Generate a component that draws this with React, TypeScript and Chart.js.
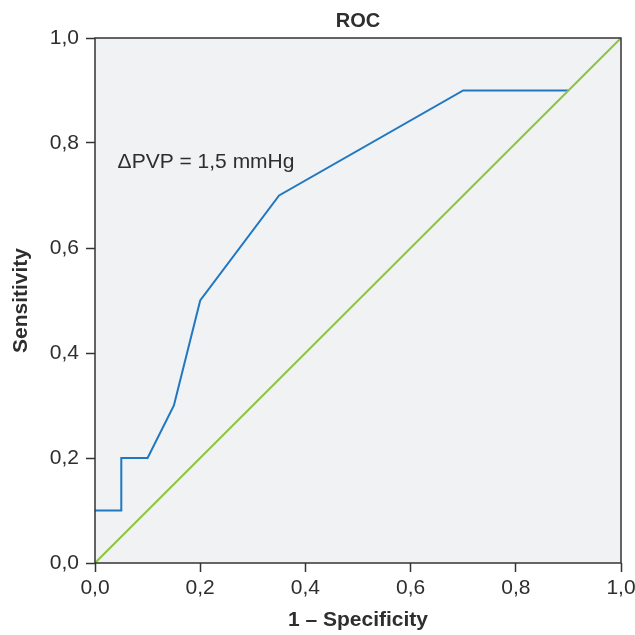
import React, { useEffect, useRef } from "react";
import { Chart, registerables } from "chart.js";

Chart.register(...registerables);

const rocX = [0, 0.05, 0.05, 0.1, 0.15, 0.2, 0.35, 0.7, 0.9];
const rocY = [0.1, 0.1, 0.2, 0.2, 0.3, 0.5, 0.7, 0.9, 0.9];
const refX = [0, 1];
const refY = [0, 1];
const tickValues = [0, 0.2, 0.4, 0.6, 0.8, 1.0];
const chartTitle = "ROC";
const xTitle = "1 – Specificity";
const yTitle = "Sensitivity";
const annotationText = "ΔPVP = 1,5 mmHg";
const annotationAt = { x: 0.043, y: 0.752 };

const FONT = "'Liberation Sans', Arial, sans-serif";
const TEXT = "#2e2e2e";

const fmt = (v: number) => v.toFixed(1).replace(".", ",");

export default function App() {
  const ref = useRef<HTMLCanvasElement | null>(null);

  useEffect(() => {
    const canvas = ref.current!;
    const decor = {
      id: "decor",
      beforeDraw(chart: any) {
        const { ctx, chartArea: a } = chart;
        ctx.save();
        ctx.fillStyle = "#f1f2f4";
        ctx.fillRect(a.left, a.top, a.right - a.left, a.bottom - a.top);
        ctx.restore();
      },
      afterDatasetsDraw(chart: any) {
        const { ctx, chartArea: a, scales } = chart;
        ctx.save();
        ctx.strokeStyle = "#333";
        ctx.lineWidth = 1.5;
        ctx.strokeRect(a.left, a.top, a.right - a.left, a.bottom - a.top);
        ctx.fillStyle = TEXT;
        ctx.font = `bold 20px ${FONT}`;
        ctx.textAlign = "center";
        ctx.textBaseline = "middle";
        ctx.fillText(chartTitle, (a.left + a.right) / 2, 21);
        ctx.font = `21px ${FONT}`;
        ctx.textAlign = "left";
        ctx.textBaseline = "alphabetic";
        ctx.fillText(
          annotationText,
          scales.x.getPixelForValue(annotationAt.x),
          scales.y.getPixelForValue(annotationAt.y)
        );
        ctx.restore();
      },
    };

    const chart = new Chart(canvas, {
      type: "scatter",
      data: {
        datasets: [
          {
            data: refX.map((x, i) => ({ x, y: refY[i] })),
            showLine: true,
            borderColor: "#8cc63e",
            borderWidth: 2,
            pointRadius: 0,
            tension: 0,
          },
          {
            data: rocX.map((x, i) => ({ x, y: rocY[i] })),
            showLine: true,
            borderColor: "#1f78c1",
            borderWidth: 2,
            pointRadius: 0,
            tension: 0,
          },
        ],
      },
      options: {
        animation: false,
        responsive: false,
        layout: { padding: { top: 38, right: 14, left: 0, bottom: 0 } },
        plugins: { legend: { display: false }, tooltip: { enabled: false }, title: { display: false } },
        scales: {
          x: {
            type: "linear",
            min: 0,
            max: 1,
            afterBuildTicks: (s: any) => {
              s.ticks = tickValues.map((v) => ({ value: v }));
            },
            afterFit: (s: any) => {
              s.height = 72;
              s.paddingLeft = 0;
              s.paddingRight = 0;
            },
            grid: { drawOnChartArea: false, tickLength: 9, tickWidth: 1.5, tickColor: "#333" },
            border: { display: false },
            ticks: {
              callback: (v: any) => fmt(Number(v)),
              color: TEXT,
              font: { family: FONT, size: 21 },
              padding: 4,
              maxRotation: 0,
            },
            title: {
              display: true,
              text: xTitle,
              color: TEXT,
              font: { family: FONT, size: 21, weight: "bold" },
              padding: { top: 0, bottom: 2 },
            },
          },
          y: {
            type: "linear",
            min: 0,
            max: 1,
            afterBuildTicks: (s: any) => {
              s.ticks = tickValues.map((v) => ({ value: v }));
            },
            afterFit: (s: any) => {
              s.width = 95;
              s.paddingTop = 0;
              s.paddingBottom = 0;
            },
            grid: { drawOnChartArea: false, tickLength: 9, tickWidth: 1.5, tickColor: "#333" },
            border: { display: false },
            ticks: {
              callback: (v: any) => fmt(Number(v)),
              color: TEXT,
              font: { family: FONT, size: 21 },
              padding: 7,
            },
            title: {
              display: true,
              text: yTitle,
              color: TEXT,
              font: { family: FONT, size: 21, weight: "bold" },
              padding: { top: 9, bottom: 0 },
            },
          },
        },
      },
      plugins: [decor],
    } as any);
    return () => chart.destroy();
  }, []);

  return (
    <div style={{ position: "absolute", left: 0, top: 0, width: 635, height: 635, background: "#fff" }}>
      <canvas ref={ref} width={635} height={635} style={{ display: "block" }} />
    </div>
  );
}
